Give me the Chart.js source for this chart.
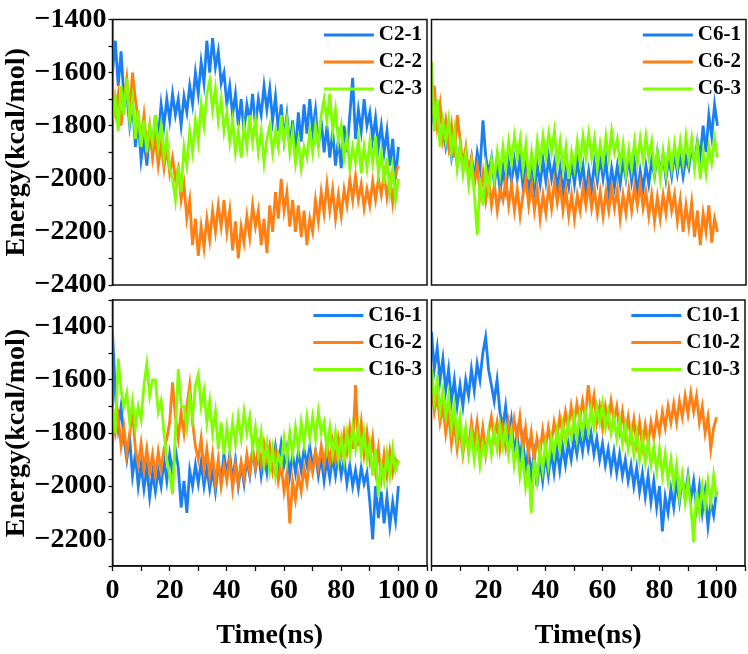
<!DOCTYPE html>
<html>
<head>
<meta charset="utf-8">
<script src="https://cdn.jsdelivr.net/npm/chart.js@4.4.1/dist/chart.umd.min.js"></script>
<style>
  body { margin: 0; background: #fff; width: 748px; height: 654px; position: relative; overflow: hidden; }
  canvas { position: absolute; }
</style>
</head>
<body>
<canvas id="chartC2" width="430" height="310" style="left:0;top:0"></canvas>
<canvas id="chartC6" width="328" height="310" style="left:420px;top:0"></canvas>
<canvas id="chartC16" width="430" height="374" style="left:0;top:280px"></canvas>
<canvas id="chartC10" width="328" height="374" style="left:420px;top:280px"></canvas>
<script>
// time axis (ns)
const times = [0, 1, 2, 3, 4, 5, 6, 7, 8, 9, 10, 11, 12, 13, 14, 15, 16, 17, 18, 19,
  20, 21, 22, 23, 24, 25, 26, 27, 28, 29, 30, 31, 32, 33, 34, 35, 36, 37, 38, 39,
  40, 41, 42, 43, 44, 45, 46, 47, 48, 49, 50, 51, 52, 53, 54, 55, 56, 57, 58, 59,
  60, 61, 62, 63, 64, 65, 66, 67, 68, 69, 70, 71, 72, 73, 74, 75, 76, 77, 78, 79,
  80, 81, 82, 83, 84, 85, 86, 87, 88, 89, 90, 91, 92, 93, 94, 95, 96, 97, 98, 99, 100];

const xTicks = [0, 10, 20, 30, 40, 50, 60, 70, 80, 90, 100, 110];
const xLabels = [0, 20, 40, 60, 80, 100];
const topYLabels = [-2400, -2200, -2000, -1800, -1600, -1400];
const botYLabels = [-2200, -2000, -1800, -1600, -1400];

// C2
const c2_1 = [-1600, -1480, -1650, -1520, -1700, -1680, -1800, -1720, -1880, -1780,
  -1930, -1850, -1950, -1820, -1900, -1760, -1850, -1720, -1800, -1700,
  -1780, -1680, -1760, -1700, -1800, -1690, -1750, -1650, -1720, -1600,
  -1680, -1560, -1640, -1480, -1600, -1470, -1580, -1520, -1640, -1600,
  -1720, -1650, -1760, -1680, -1800, -1700, -1820, -1720, -1780, -1680,
  -1800, -1700, -1760, -1650, -1740, -1660, -1780, -1690, -1820, -1720,
  -1850, -1760, -1880, -1780, -1900, -1750, -1860, -1720, -1830, -1700,
  -1820, -1740, -1880, -1780, -1900, -1800, -1920, -1820, -1950, -1850,
  -1960, -1800, -1900, -1760, -1620, -1850, -1740, -1820, -1700, -1800,
  -1750, -1850, -1770, -1880, -1800, -1900, -1820, -1950, -1850, -2000, -1880];
const c2_2 = [-1650, -1750, -1680, -1800, -1700, -1620, -1750, -1600, -1700, -1780,
  -1850, -1760, -1880, -1800, -1920, -1840, -1950, -1870, -1960, -1880,
  -1980, -1920, -2000, -1960, -2080, -2020, -2150, -2080, -2250, -2150,
  -2290, -2180, -2260, -2150, -2230, -2120, -2200, -2100, -2180, -2080,
  -2200, -2120, -2270, -2160, -2300, -2180, -2240, -2140, -2220, -2100,
  -2180, -2120, -2250, -2150, -2280, -2100, -2200, -2050, -2150, -2000,
  -2120, -2050, -2180, -2080, -2200, -2100, -2220, -2120, -2250, -2150,
  -2200, -2080, -2160, -2050, -2130, -2020, -2120, -2040, -2150, -2060,
  -2140, -2040, -2100, -2000, -2080, -1990, -2080, -2020, -2110, -2040,
  -2100, -2010, -2080, -2000, -2060, -1980, -2070, -2000, -2090, -1980, -1950];
const c2_3 = [-1780, -1700, -1820, -1650, -1760, -1620, -1780, -1700, -1850, -1740,
  -1880, -1780, -1900, -1800, -1860, -1760, -1880, -1800, -1920, -1840,
  -1960, -2000, -2080, -1950, -2050, -1880, -1950, -1820, -1900, -1780,
  -1860, -1720, -1800, -1680, -1630, -1740, -1660, -1780, -1700, -1820,
  -1750, -1860, -1780, -1900, -1820, -1920, -1800, -1880, -1760, -1860,
  -1780, -1900, -1820, -1940, -1850, -1800, -1900, -1820, -1880, -1760,
  -1860, -1780, -1900, -1820, -1940, -1860, -1960, -1880, -1920, -1820,
  -1900, -1800, -1880, -1760, -1700, -1780, -1680, -1820, -1740, -1860,
  -1800, -1920, -1840, -1960, -1880, -1940, -1850, -1980, -1880, -1960,
  -1860, -1940, -1840, -1980, -1900, -2020, -1920, -2050, -1960, -2080, -2000];

// C6
const c6_1 = [-1720, -1800, -1760, -1850, -1800, -1880, -1820, -1920, -1860, -1950,
  -1880, -1960, -1900, -1990, -1920, -2000, -1900, -1960, -1780, -1920,
  -1980, -1920, -2020, -1940, -2050, -1960, -2040, -1940, -2010, -1930,
  -2000, -1920, -2030, -1950, -2060, -1970, -2040, -1950, -2020, -1930,
  -2010, -1920, -2000, -1940, -2040, -1960, -2050, -1970, -2030, -1940,
  -2020, -1930, -2010, -1950, -2060, -1970, -2040, -1940, -2010, -1920,
  -2000, -1930, -2050, -1960, -2030, -1950, -2020, -1930, -2000, -1920,
  -2010, -1940, -2060, -1970, -2040, -1950, -2020, -1930, -1990, -1900,
  -1980, -1910, -2000, -1920, -1990, -1900, -1980, -1910, -1990, -1920,
  -1960, -1880, -1940, -1860, -1920, -1800, -1900, -1760, -1840, -1720, -1800];
const c6_2 = [-1760, -1650, -1800, -1720, -1850, -1780, -1880, -1800, -1920, -1760,
  -1850, -1950, -1880, -1980, -1920, -2020, -1950, -2060, -1980, -2080,
  -2000, -2100, -2020, -2120, -2040, -2080, -2000, -2100, -2020, -2120,
  -2040, -2140, -2060, -2000, -2100, -2020, -2120, -2040, -2150, -2060,
  -2130, -2030, -2110, -2010, -2090, -2020, -2120, -2040, -2140, -2060,
  -2150, -2060, -2120, -2030, -2100, -2020, -2110, -2040, -2130, -2050,
  -2140, -2050, -2120, -2030, -2110, -2040, -2150, -2060, -2130, -2040,
  -2120, -2030, -2100, -2020, -2110, -2050, -2140, -2060, -2160, -2070,
  -2150, -2060, -2130, -2040, -2120, -2060, -2160, -2080, -2200, -2100,
  -2180, -2090, -2220, -2120, -2250, -2130, -2200, -2100, -2240, -2150, -2200];
const c6_3 = [-1560, -1820, -1700, -1880, -1780, -1860, -1780, -1900, -1820, -1960,
  -1880, -1980, -1900, -2020, -1940, -2060, -2210, -2000, -2100, -1960,
  -2040, -1930, -2000, -1900, -1980, -1880, -1960, -1860, -1940, -1840,
  -1920, -1850, -1960, -1870, -2000, -1900, -1980, -1860, -1940, -1840,
  -1920, -1830, -1900, -1820, -1940, -1860, -1960, -1880, -2000, -1900,
  -1960, -1860, -1940, -1840, -1920, -1830, -1920, -1850, -1960, -1870,
  -1940, -1840, -1920, -1820, -1900, -1850, -1950, -1870, -1980, -1890,
  -1960, -1860, -1940, -1850, -1930, -1840, -1920, -1860, -1980, -1900,
  -2000, -1900, -1980, -1880, -1960, -1870, -1950, -1860, -1940, -1840,
  -1930, -1850, -1960, -1870, -2000, -1900, -1980, -1880, -1940, -1850, -1920];

// C16
const c16_1 = [-1420, -1650, -1780, -1700, -1820, -1900, -1820, -1960, -1880, -2000,
  -1920, -2010, -1930, -2040, -1950, -2020, -1940, -2000, -1900, -1980,
  -1880, -1950, -1860, -1930, -2080, -1980, -2100, -1940, -2000, -1920,
  -1990, -1910, -2000, -1930, -2010, -1940, -2020, -1920, -1980, -1880,
  -1960, -1880, -1980, -1900, -2000, -1920, -1990, -1900, -1960, -1860,
  -1940, -1870, -1960, -1880, -1950, -1860, -1930, -1850, -1920, -1840,
  -1920, -1860, -1960, -1880, -1950, -1870, -1940, -1860, -1920, -1850,
  -1930, -1870, -1960, -1890, -1980, -1900, -1970, -1890, -1960, -1880,
  -1960, -1900, -1990, -1920, -2000, -1940, -2010, -1930, -1990, -1950,
  -2060, -2200, -2000, -2120, -2020, -2140, -2040, -2150, -2060, -2130, -2000];
const c16_2 = [-1700, -1800, -1740, -1850, -1780, -1880, -1800, -1720, -1860, -1920,
  -1840, -1940, -1860, -1950, -1880, -1960, -1870, -1940, -1860, -1820,
  -1760, -1610, -1740, -1820, -1720, -1800, -1700, -1620, -1760, -1850,
  -1900, -1820, -1940, -1860, -1960, -1880, -1990, -1900, -2000, -1920,
  -1980, -1900, -2010, -1920, -1990, -1910, -1970, -1880, -1950, -1860,
  -1930, -1850, -1920, -1840, -1900, -1850, -1940, -1870, -1980, -1920,
  -2020, -1950, -2140, -1980, -2050, -1960, -2020, -1930, -1990, -1900,
  -1950, -1870, -1930, -1850, -1920, -1840, -1910, -1830, -1900, -1820,
  -1880, -1800, -1870, -1780, -1860, -1620, -1850, -1760, -1880, -1800,
  -1900, -1820, -1940, -1860, -1970, -1880, -1960, -1870, -1950, -1900, -1920];
const c16_3 = [-1700, -1800, -1520, -1640, -1700, -1650, -1760, -1680, -1780, -1700,
  -1750, -1620, -1540, -1660, -1600, -1600, -1720, -1680, -1800, -1900,
  -1960, -2030, -1800, -1560, -1700, -1700, -1780, -1660, -1740, -1620,
  -1580, -1700, -1640, -1760, -1680, -1800, -1720, -1860, -1760, -1880,
  -1780, -1860, -1760, -1840, -1740, -1820, -1720, -1800, -1740, -1860,
  -1780, -1880, -1800, -1920, -1840, -1940, -1860, -1960, -1880, -1920,
  -1820, -1900, -1800, -1880, -1780, -1860, -1760, -1840, -1740, -1820,
  -1740, -1820, -1720, -1800, -1760, -1860, -1780, -1880, -1800, -1900,
  -1820, -1900, -1800, -1880, -1780, -1860, -1780, -1880, -1800, -1900,
  -1840, -1960, -1860, -2040, -1920, -1980, -1880, -1960, -1860, -1940, -1900];

// C10
const c10_1 = [-1420, -1560, -1480, -1600, -1520, -1640, -1560, -1680, -1600, -1700,
  -1620, -1700, -1600, -1660, -1560, -1640, -1540, -1600, -1500, -1440,
  -1560, -1620, -1680, -1600, -1720, -1780, -1700, -1820, -1750, -1880,
  -1800, -1900, -1820, -1940, -1860, -1960, -1880, -2000, -1900, -1980,
  -1880, -1960, -1870, -1950, -1860, -1940, -1850, -1920, -1840, -1900,
  -1820, -1880, -1800, -1870, -1790, -1860, -1800, -1880, -1820, -1900,
  -1840, -1920, -1860, -1940, -1870, -1950, -1880, -1960, -1900, -1980,
  -1920, -2000, -1930, -2020, -1950, -2040, -1960, -2060, -1980, -2080,
  -2000, -2170, -2040, -2100, -2010, -2080, -1980, -2060, -1970, -2040,
  -1960, -2050, -1980, -2080, -2000, -2100, -2020, -2150, -2060, -2110, -2020];
const c10_2 = [-1620, -1720, -1660, -1760, -1700, -1800, -1720, -1840, -1760, -1860,
  -1780, -1880, -1800, -1860, -1760, -1840, -1760, -1860, -1780, -1880,
  -1800, -1740, -1820, -1760, -1860, -1780, -1850, -1760, -1830, -1750,
  -1820, -1740, -1860, -1780, -1880, -1800, -1900, -1820, -1880, -1790,
  -1860, -1780, -1840, -1760, -1820, -1740, -1800, -1720, -1780, -1700,
  -1770, -1690, -1750, -1680, -1740, -1620, -1720, -1660, -1760, -1700,
  -1780, -1700, -1760, -1680, -1750, -1700, -1790, -1720, -1810, -1740,
  -1820, -1750, -1840, -1760, -1850, -1770, -1840, -1760, -1820, -1740,
  -1800, -1720, -1780, -1700, -1760, -1690, -1760, -1680, -1740, -1660,
  -1730, -1650, -1720, -1660, -1760, -1700, -1800, -1740, -1860, -1780, -1740];
const c10_3 = [-1560, -1680, -1600, -1720, -1640, -1740, -1660, -1780, -1700, -1820,
  -1740, -1860, -1780, -1880, -1800, -1900, -1820, -1920, -1840, -1880,
  -1800, -1880, -1790, -1860, -1770, -1850, -1780, -1880, -1800, -1920,
  -1850, -1960, -1880, -2000, -1920, -2100, -1900, -1980, -1860, -1940,
  -1840, -1920, -1820, -1880, -1790, -1860, -1770, -1840, -1760, -1820,
  -1740, -1820, -1730, -1800, -1720, -1790, -1710, -1780, -1700, -1760,
  -1690, -1780, -1720, -1800, -1740, -1820, -1750, -1840, -1770, -1860,
  -1790, -1880, -1800, -1900, -1820, -1910, -1830, -1920, -1850, -1940,
  -1860, -1960, -1880, -1980, -1900, -2000, -1920, -2040, -1960, -2060,
  -1980, -2080, -2210, -2020, -2100, -2000, -2080, -1980, -2060, -1960, -2040];

const blue = '#1a7ff2';
const orange = '#ff7f12';
const green = '#80ff00';

Chart.defaults.font.family = '"Liberation Serif", "Times New Roman", serif';
Chart.defaults.font.weight = 'bold';
Chart.defaults.color = '#000';

const fmt = v => String(v).replace('-', '\u2212');

// legend in the top right corner, then the box frame round the plot area
const boxLegend = {
  id: 'boxLegend',
  afterDraw(chart) {
    const { ctx, chartArea: a } = chart;
    ctx.save();
    ctx.font = 'bold 21px "Liberation Serif"';
    const sets = chart.data.datasets;
    const tw = Math.max(...sets.map(d => ctx.measureText(d.label).width));
    const x0 = a.right - 5 - tw - 5 - 50;
    sets.forEach((d, i) => {
      const y = a.top + 15.5 + i * 27;
      ctx.strokeStyle = d.borderColor;
      ctx.lineWidth = 3;
      ctx.beginPath();
      ctx.moveTo(x0, y);
      ctx.lineTo(x0 + 50, y);
      ctx.stroke();
      ctx.fillStyle = '#000';
      ctx.textBaseline = 'middle';
      ctx.textAlign = 'left';
      ctx.fillText(d.label, x0 + 55, y);
    });
    ctx.strokeStyle = '#111';
    ctx.lineWidth = 1.5;
    ctx.beginPath();
    ctx.rect(a.left, a.top, a.right - a.left, a.bottom - a.top);
    ctx.stroke();
    ctx.restore();
  }
};

function series(label, values, color, order) {
  return {
    label,
    data: values.map((v, i) => ({ x: times[i], y: v })),
    borderColor: color,
    backgroundColor: color,
    borderWidth: 2.8,
    pointRadius: 0,
    tension: 0,
    order
  };
}

function makeChart(id, names, data, o) {
  const yMinor = [];
  for (let v = o.ymin; v <= o.ymax; v += 100) yMinor.push(v);
  new Chart(document.getElementById(id), {
    type: 'line',
    data: {
      datasets: [
        series(names[0], data[0], blue, 3),
        series(names[1], data[1], orange, 2),
        series(names[2], data[2], green, 1)
      ]
    },
    options: {
      responsive: false,
      devicePixelRatio: 1,
      animation: false,
      events: [],
      layout: { padding: o.padding, autoPadding: false },
      plugins: { legend: { display: false }, tooltip: { enabled: false } },
      scales: {
        x: {
          type: 'linear',
          min: 0,
          max: 110,
          display: o.showX,
          afterBuildTicks: s => { s.ticks = xTicks.map(v => ({ value: v })); },
          afterFit: s => { if (o.showX) s.height = 88; },
          grid: { drawOnChartArea: false, drawTicks: true, tickLength: 5, tickColor: '#111', tickWidth: 1.3 },
          border: { display: true, color: '#111', width: 1.5 },
          ticks: {
            autoSkip: false,
            maxRotation: 0,
            padding: 3,
            font: { size: 28, weight: 'bold' },
            callback: v => (xLabels.includes(v) ? String(v) : '')
          },
          title: {
            display: true,
            text: 'Time(ns)',
            font: { size: 28, weight: 'bold' },
            padding: { top: 0, bottom: 1 }
          }
        },
        y: {
          min: o.ymin,
          max: o.ymax,
          display: o.showY,
          afterBuildTicks: s => { s.ticks = yMinor.map(v => ({ value: v })); },
          afterFit: s => { if (o.showY) s.width = 112.5; },
          grid: { drawOnChartArea: false, drawTicks: true, tickLength: 4, tickColor: '#111', tickWidth: 1.3 },
          border: { display: true, color: '#111', width: 1.5 },
          ticks: {
            autoSkip: false,
            padding: 2,
            font: { size: 28, weight: 'bold' },
            callback: v => (o.yLabels.includes(v) ? fmt(v) : '')
          },
          title: {
            display: true,
            text: 'Energy(kcal/mol)',
            font: { size: 28, weight: 'bold' },
            padding: { top: 0, bottom: 0 }
          }
        }
      }
    },
    plugins: [boxLegend]
  });
}

makeChart('chartC2', ['C2-1', 'C2-2', 'C2-3'], [c2_1, c2_2, c2_3], {
  ymin: -2400, ymax: -1400, yLabels: topYLabels, showX: false, showY: true,
  padding: { left: 0, top: 19.5, right: 3, bottom: 25 }
});
makeChart('chartC6', ['C6-1', 'C6-2', 'C6-3'], [c6_1, c6_2, c6_3], {
  ymin: -2400, ymax: -1400, yLabels: topYLabels, showX: false, showY: false,
  padding: { left: 11.5, top: 19.5, right: 2, bottom: 25 }
});
makeChart('chartC16', ['C16-1', 'C16-2', 'C16-3'], [c16_1, c16_2, c16_3], {
  ymin: -2300, ymax: -1300, yLabels: botYLabels, showX: true, showY: true,
  padding: { left: 0, top: 20, right: 2.5, bottom: 0 }
});
makeChart('chartC10', ['C10-1', 'C10-2', 'C10-3'], [c10_1, c10_2, c10_3], {
  ymin: -2300, ymax: -1300, yLabels: botYLabels, showX: true, showY: false,
  padding: { left: 11.5, top: 20, right: 2, bottom: 0 }
});
</script>
</body>
</html>
